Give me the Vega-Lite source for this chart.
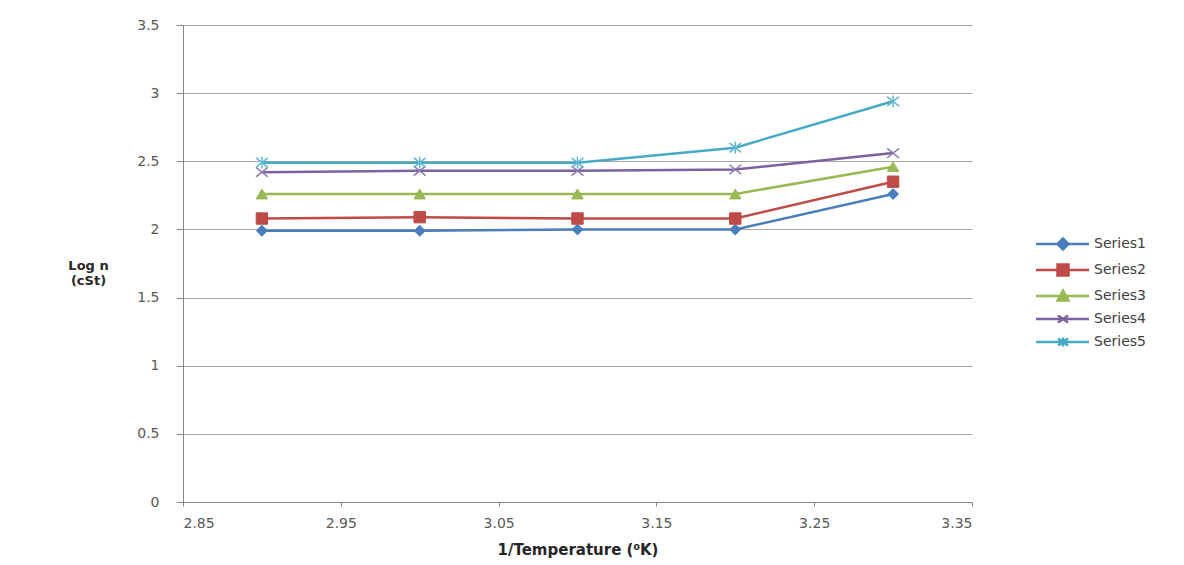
{
  "$schema": "https://vega.github.io/schema/vega-lite/v6.json",
  "width": 789,
  "height": 477,
  "autosize": {"type": "none"},
  "padding": {"left": 183, "top": 25, "right": 212, "bottom": 63},
  "background": "white",
  "config": {
    "view": {"stroke": null},
    "font": "DejaVu Sans"
  },
  "data": {
    "values": [
      {"series": "Series1", "t": 2.9, "logn": 1.99},
      {"series": "Series1", "t": 3.0, "logn": 1.99},
      {"series": "Series1", "t": 3.1, "logn": 2.0},
      {"series": "Series1", "t": 3.2, "logn": 2.0},
      {"series": "Series1", "t": 3.3, "logn": 2.26},
      {"series": "Series2", "t": 2.9, "logn": 2.08},
      {"series": "Series2", "t": 3.0, "logn": 2.09},
      {"series": "Series2", "t": 3.1, "logn": 2.08},
      {"series": "Series2", "t": 3.2, "logn": 2.08},
      {"series": "Series2", "t": 3.3, "logn": 2.35},
      {"series": "Series3", "t": 2.9, "logn": 2.26},
      {"series": "Series3", "t": 3.0, "logn": 2.26},
      {"series": "Series3", "t": 3.1, "logn": 2.26},
      {"series": "Series3", "t": 3.2, "logn": 2.26},
      {"series": "Series3", "t": 3.3, "logn": 2.46},
      {"series": "Series4", "t": 2.9, "logn": 2.42},
      {"series": "Series4", "t": 3.0, "logn": 2.43},
      {"series": "Series4", "t": 3.1, "logn": 2.43},
      {"series": "Series4", "t": 3.2, "logn": 2.44},
      {"series": "Series4", "t": 3.3, "logn": 2.56},
      {"series": "Series5", "t": 2.9, "logn": 2.49},
      {"series": "Series5", "t": 3.0, "logn": 2.49},
      {"series": "Series5", "t": 3.1, "logn": 2.49},
      {"series": "Series5", "t": 3.2, "logn": 2.6},
      {"series": "Series5", "t": 3.3, "logn": 2.94}
    ]
  },
  "encoding": {
    "x": {
      "field": "t",
      "type": "quantitative",
      "scale": {"domain": [2.85, 3.35], "nice": false, "zero": false},
      "axis": {
        "values": [2.85, 2.95, 3.05, 3.15, 3.25, 3.35],
        "format": ".2f",
        "grid": false,
        "title": "1/Temperature (⁰K)",
        "titleFontSize": 15,
        "titleFontWeight": "bold",
        "titleColor": "#262626",
        "titlePadding": 12,
        "labelFontSize": 14,
        "labelColor": "#595959",
        "labelPadding": 10,
        "tickSize": 4,
        "tickColor": "#868686",
        "domainColor": "#868686"
      }
    },
    "y": {
      "field": "logn",
      "type": "quantitative",
      "scale": {"domain": [0, 3.5], "nice": false},
      "axis": {
        "values": [0, 0.5, 1, 1.5, 2, 2.5, 3, 3.5],
        "format": "~g",
        "grid": true,
        "gridColor": "#a6a6a6",
        "title": ["Log n", "(cSt)"],
        "titleAngle": 0,
        "titleX": -95,
        "titleY": 240,
        "titleAlign": "center",
        "titleBaseline": "middle",
        "titleLineHeight": 15,
        "titleFontSize": 13,
        "titleFontWeight": "bold",
        "titleColor": "#262626",
        "labelFontSize": 14,
        "labelColor": "#595959",
        "labelPadding": 17,
        "tickSize": 7,
        "tickColor": "#868686",
        "domainColor": "#868686"
      }
    }
  },
  "layer": [
    {
      "mark": {"type": "line", "strokeWidth": 2.5},
      "encoding": {
        "color": {
          "field": "series",
          "type": "nominal",
          "scale": {
            "domain": ["Series1", "Series2", "Series3", "Series4", "Series5"],
            "range": ["#4a7ebb", "#be4b48", "#98b954", "#7d60a0", "#46aac5"]
          },
          "legend": {
            "orient": "none",
            "legendX": 852,
            "legendY": 212,
            "title": null,
            "labelFontSize": 14,
            "labelColor": "#404040",
            "labelOffset": 45,
            "symbolSize": 100,
            "symbolStrokeWidth": 2.5,
            "rowPadding": 4,
            "encode": {
              "symbols": {
                "update": {
                  "shape": {"signal": "datum.value === 'Series1' ? 'M-1.2,0H9.4M3.1,0L4.2,-1.1L5.3,0L4.2,1.1Z' : datum.value === 'Series2' ? 'M-1.2,0H9.4M3.1,-1.1H5.3V1.1H3.1Z' : datum.value === 'Series3' ? 'M-1.2,0H9.4M3.1,0.9L4.2,-1.1L5.3,0.9Z' : datum.value === 'Series4' ? 'M-1.2,0H9.4M3.2,-0.7L5.2,0.7M5.2,-0.7L3.2,0.7' : 'M-1.2,0H9.4M3.2,-0.7L5.2,0.7M5.2,-0.7L3.2,0.7M4.2,-0.9L4.2,0.9'"},
                  "fill": {"signal": "scale('color', datum.value)"}
                }
              }
            }
          }
        }
      }
    },
    {
      "transform": [{"filter": "datum.series === 'Series1'"}],
      "mark": {"type": "point", "shape": "diamond", "size": 120, "filled": true, "opacity": 1, "fill": "#4a7ebb", "stroke": "#4a7ebb", "strokeWidth": 1}
    },
    {
      "transform": [{"filter": "datum.series === 'Series2'"}],
      "mark": {"type": "point", "shape": "square", "size": 130, "filled": true, "opacity": 1, "fill": "#be4b48", "stroke": "#be4b48", "strokeWidth": 1}
    },
    {
      "transform": [{"filter": "datum.series === 'Series3'"}],
      "mark": {"type": "point", "shape": "triangle-up", "size": 130, "filled": true, "opacity": 1, "fill": "#98b954", "stroke": "#98b954", "strokeWidth": 1}
    },
    {
      "transform": [{"filter": "datum.series === 'Series4'"}],
      "mark": {"type": "point", "shape": "M-1,-0.8L1,0.8M1,-0.8L-1,0.8", "size": 140, "filled": false, "opacity": 1, "stroke": "#8f7cb0", "strokeWidth": 1.5}
    },
    {
      "transform": [{"filter": "datum.series === 'Series5'"}],
      "mark": {"type": "point", "shape": "M-1,-0.8L1,0.8M1,-0.8L-1,0.8M0,-1L0,1", "size": 140, "filled": false, "opacity": 1, "stroke": "#62b8d0", "strokeWidth": 1.5}
    }
  ]
}
